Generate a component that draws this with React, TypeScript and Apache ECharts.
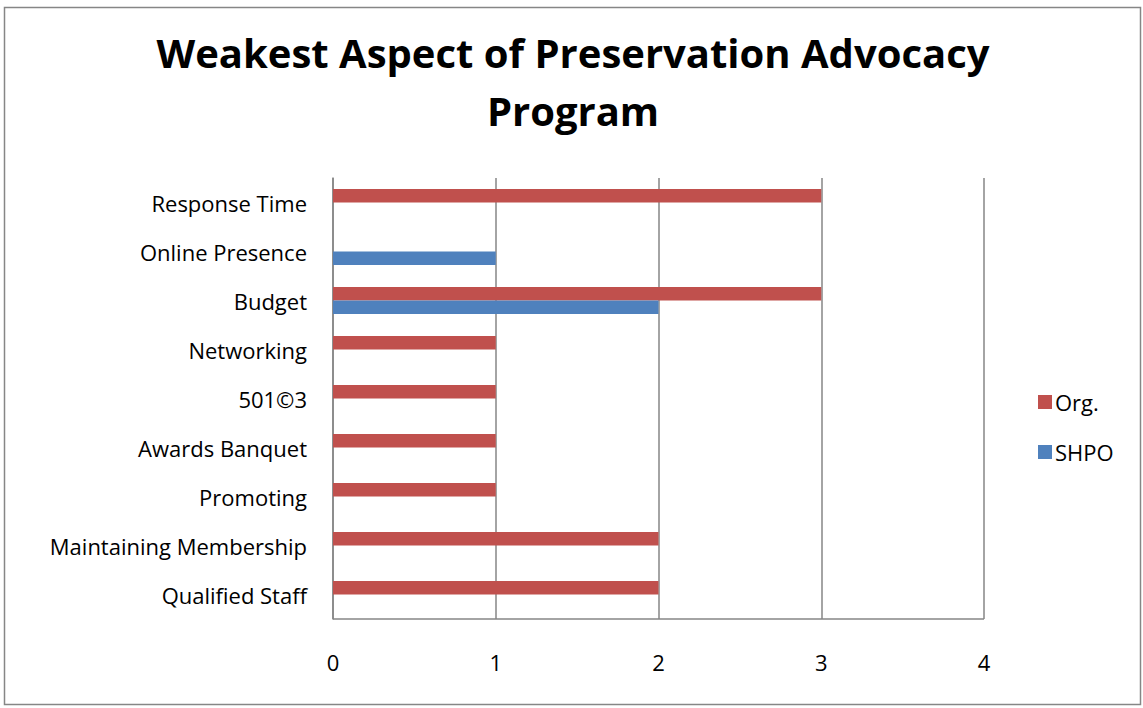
import React, { useEffect, useRef } from "react";
import * as echarts from "echarts";

const categories = [
  "Qualified Staff",
  "Maintaining Membership",
  "Promoting",
  "Awards Banquet",
  "501©3",
  "Networking",
  "Budget",
  "Online Presence",
  "Response Time",
];
const orgValues = [2, 2, 1, 1, 1, 1, 3, 0, 3];
const shpoValues = [0, 0, 0, 0, 0, 0, 2, 1, 0];
const xTicks = [0, 1, 2, 3, 4];

const FONT = "'Open Sans', Lato, sans-serif";

export default function App() {
  const ref = useRef<HTMLDivElement>(null);
  useEffect(() => {
    const chart = echarts.init(ref.current!, null, { renderer: "svg" });
    chart.setOption({
      animation: false,
      backgroundColor: "#fff",
      title: {
        text: "Weakest Aspect of Preservation Advocacy\nProgram",
        left: 568,
        top: 18,
        textAlign: "center",
        textStyle: {
          fontFamily: FONT,
          fontWeight: "bold",
          fontSize: 40,
          lineHeight: 58,
          color: "#000",
        },
      },
      legend: {
        orient: "vertical",
        left: 1033,
        top: 386,
        itemWidth: 14,
        itemHeight: 14,
        itemGap: 28,
        icon: "rect",
        textStyle: { fontFamily: FONT, fontSize: 22, color: "#000", padding: [0, 0, 0, -2] },
        data: ["Org.", "SHPO"],
      },
      grid: { left: 333, right: 159, top: 178, bottom: 89, containLabel: false },
      xAxis: {
        type: "value",
        min: 0,
        max: 4,
        interval: 1,
        axisLine: { show: false },
        axisTick: { show: false },
        axisLabel: {
          margin: 32,
          fontFamily: FONT,
          fontSize: 22,
          color: "#000",
          formatter: (v: number) => (xTicks.includes(v) ? String(v) : ""),
        },
        splitLine: { show: true, lineStyle: { color: "#868686", width: 1.5 } },
      },
      yAxis: {
        type: "category",
        data: categories,
        axisLine: { show: true, lineStyle: { color: "#868686", width: 1.5 } },
        axisTick: { show: false },
        axisLabel: { margin: 26, fontFamily: FONT, fontSize: 22, color: "#000", padding: [0, 0, 5, 0] },
      },
      series: [
        {
          name: "Org.",
          type: "bar",
          data: orgValues,
          itemStyle: { color: "#C0504D" },
          barCategoryGap: "45%",
          barGap: "0%",
        },
        {
          name: "SHPO",
          type: "bar",
          data: shpoValues,
          itemStyle: { color: "#4F81BD" },
          barCategoryGap: "45%",
          barGap: "0%",
        },
      ],
      graphic: [
        {
          type: "rect",
          shape: { x: 4.5, y: 7.5, width: 1136, height: 697 },
          style: { fill: "none", stroke: "#868686", lineWidth: 1.5 },
          z: -1,
        },
        {
          type: "line",
          shape: { x1: 333, y1: 619, x2: 984, y2: 619 },
          style: { stroke: "#868686", lineWidth: 1.5 },
        },
      ],
    });
    return () => chart.dispose();
  }, []);
  return <div ref={ref} style={{ width: 1143, height: 708, position: "absolute", left: 0, top: 0 }} />;
}
